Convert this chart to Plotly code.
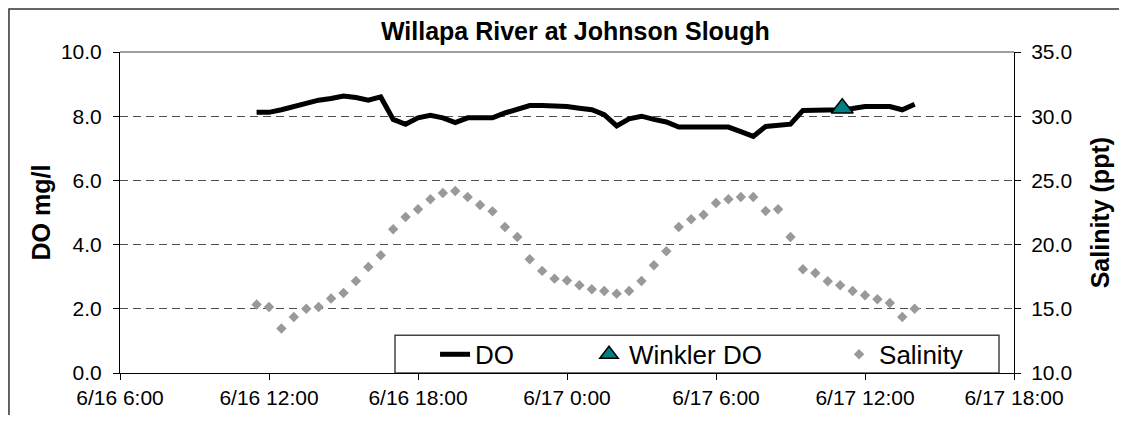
"""
Willapa River at Johnson Slough - DO and salinity time series
"""
import pandas as pd
import plotly.graph_objects as go

# sampling times: every 30 minutes from 6/16 11:30 to 6/17 14:00
sample_times = pd.date_range("2007-06-16 11:30", periods=54, freq="30min")

do_mgl = [
    8.12, 8.12, 8.2, 8.3, 8.42, 8.5, 8.55, 8.63, 8.58, 8.5,
    8.6, 7.9, 7.75, 7.95, 8.03, 7.95, 7.8, 7.95, 7.95, 7.95,
    8.1, 8.2, 8.33, 8.33, 8.33, 8.3, 8.25, 8.2, 8.05, 7.7,
    7.92, 8.0, 7.9, 7.82, 7.66, 7.66, 7.66, 7.66, 7.66, 7.52,
    7.37, 7.68, 7.7, 7.75, 8.18, 8.18, 8.18, 8.2, 8.24, 8.3,
    8.3, 8.3, 8.2, 8.37,
]

salinity_ppt = [
    15.33, 15.14, 13.46, 14.36, 15.0, 15.14, 15.8, 16.23, 17.17, 18.26,
    19.17, 21.19, 22.15, 22.75, 23.53, 24.02, 24.17, 23.71, 23.08, 22.59,
    21.37, 20.59, 18.86, 17.95, 17.35, 17.2, 16.83, 16.52, 16.39, 16.18,
    16.39, 17.17, 18.39, 19.48, 21.37, 21.97, 22.33, 23.24, 23.53, 23.71,
    23.71, 22.62, 22.75, 20.59, 18.08, 17.79, 17.14, 16.83, 16.39, 16.05,
    15.74, 15.45, 14.36, 15.0,
]

winkler_time = ["2007-06-17 11:05"]
winkler_do = [8.25]

FONT = "Liberation Sans, Arial, sans-serif"

fig = go.Figure()

fig.add_trace(go.Scatter(
    x=sample_times, y=do_mgl, name="DO", mode="lines",
    line=dict(color="black", width=5), legend="legend",
))
fig.add_trace(go.Scatter(
    x=winkler_time, y=winkler_do, name="Winkler DO", mode="markers",
    marker=dict(symbol="triangle-up", size=19, color="#008080",
                line=dict(color="black", width=1.5)),
    legend="legend2",
))
fig.add_trace(go.Scatter(
    x=sample_times, y=salinity_ppt, name="Salinity", mode="markers",
    yaxis="y2",
    marker=dict(symbol="diamond", size=8, color="#999999"),
    legend="legend3",
))

axis_common = dict(
    showline=True, linecolor="black", linewidth=1,
    ticks="outside", tickcolor="black", zeroline=False, automargin=False,
)

# one legend per entry so each item sits where it does in the original box
legend_common = dict(orientation="h", xanchor="left", y=0.058, yanchor="middle",
                     bgcolor="rgba(0,0,0,0)", borderwidth=0, font=dict(size=26))

# the page body adds an 8px offset; the figure is shrunk so it fits the window
fig.update_layout(
    width=1119, height=407,
    margin=dict(l=112, r=113, t=44, b=42),
    paper_bgcolor="white", plot_bgcolor="white",
    font=dict(family=FONT, size=21, color="black"),
    title=dict(text="<b>Willapa River at Johnson Slough</b>",
               x=0.507, xanchor="center", y=0.942, yanchor="middle",
               font=dict(size=25)),
    showlegend=True,
    legend=dict(x=0.3524, **legend_common),
    legend2=dict(x=0.5246, **legend_common),
    legend3=dict(x=0.8043, **legend_common),
    xaxis=dict(
        type="date",
        range=["2007-06-16 06:00", "2007-06-17 18:00"],
        tick0="2007-06-16 06:00", dtick=6 * 3600 * 1000,
        tickformat="%-m/%-d %-H:%M", ticklen=6,
        showgrid=False, **axis_common,
    ),
    yaxis=dict(
        range=[0, 10], dtick=2, tickformat=".1f", ticklen=6,
        ticklabelstandoff=7,
        showgrid=True, gridcolor="#505050", griddash="8px,5px", gridwidth=1,
        **axis_common,
    ),
    yaxis2=dict(
        range=[10, 35], dtick=5, tickformat=".1f", ticklen=6,
        ticklabelstandoff=6,
        overlaying="y", side="right", showgrid=False,
        **axis_common,
    ),
)

# axis titles
fig.add_annotation(text="<b>DO mg/l</b>", xref="paper", yref="paper",
                   x=-0.0884, y=0.5, xanchor="center", yanchor="middle",
                   textangle=-90, showarrow=False, font=dict(size=25))
fig.add_annotation(text="<b>Salinity (ppt)</b>", xref="paper", yref="paper",
                   x=1.096, y=0.5, xanchor="center", yanchor="middle",
                   textangle=-90, showarrow=False, font=dict(size=25))

# legend box
fig.add_shape(type="rect", xref="paper", yref="paper",
              x0=(395 - 120) / 894, x1=(999 - 120) / 894, y0=0, y1=(372.7 - 335) / 321,
              line=dict(color="#444", width=1.5), fillcolor="white", layer="below")
# gray top edge of the plot area
fig.add_shape(type="line", xref="paper", yref="paper", x0=0, x1=1, y0=1, y1=1,
              line=dict(color="#808080", width=1.5), layer="above")
# outer chart frame (kept just inside the svg so it is not clipped)
fig.add_shape(type="rect", xref="paper", yref="paper",
              x0=-0.1242, x1=1.15, y0=-0.2, y1=1.134,
              line=dict(color="#333", width=1.5), layer="above")

fig.write_html("out.html")
